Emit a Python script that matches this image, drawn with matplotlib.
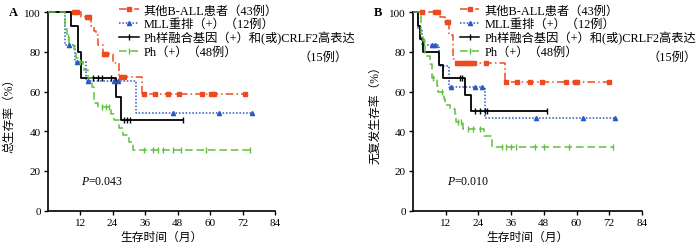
import matplotlib

matplotlib.use("Agg")

import matplotlib.pyplot as plt
import numpy as np
from matplotlib.lines import Line2D

plt.rcParams["font.family"] = ["Liberation Serif", "Noto Sans CJK SC"]
plt.rcParams["mathtext.fontset"] = "custom"
plt.rcParams["mathtext.it"] = "Liberation Serif:italic"
plt.rcParams["mathtext.rm"] = "Liberation Serif"

# ---- Panel A: overall survival ----
a_red_t = [0, 12.3, 16.0, 17.2, 17.9, 18.7, 20.5, 24.3, 26.3, 35.0, 73.0]
a_red_s = [100, 97.7, 93.0, 90.7, 88.4, 83.7, 79.1, 74.4, 67.4, 59.0, 59.0]
a_red_c = [9.7, 10.7, 14.5, 15.3, 21.0, 21.6, 27.0, 28.3,
           35.7, 39.6, 44.5, 48.5, 57.0, 60.2, 61.3, 73.0]

a_blue_t = [0, 6.3, 10.2, 14.0, 32.6, 75.5]
a_blue_s = [100, 83.3, 75.0, 65.6, 49.2, 49.2]
a_blue_c = [8.0, 11.0, 14.8, 24.5, 26.0, 46.4, 63.2, 75.5]

a_black_t = [0, 8.5, 11.4, 12.4, 25.4, 27.0, 50.0]
a_black_s = [100, 93.3, 80.0, 66.7, 57.1, 45.7, 45.7]
a_black_c = [16.7, 18.5, 20.2, 23.4, 28.3, 29.3, 30.3, 50.0]

a_green_t = [0, 6.3, 7.2, 8.0, 9.7, 10.5, 11.4, 13.0, 13.6, 14.8, 16.3, 17.3,
             18.5, 23.4, 24.6, 26.5, 27.7, 30.0, 31.4, 74.6]
a_green_s = [100, 91.7, 87.5, 83.3, 81.3, 77.1, 75.0, 72.9, 70.8, 66.7, 62.5,
             54.2, 52.0, 48.8, 45.5, 41.7, 38.0, 34.5, 30.6, 30.6]
a_green_c = [7.5, 12.0, 20.0, 21.5, 22.5, 35.7, 38.9, 40.6, 42.6, 46.3, 49.2,
             58.6, 74.6]

# ---- Panel B: relapse-free survival ----
b_red_t = [0, 9.9, 11.8, 13.2, 14.8, 15.8, 33.8, 72.2]
b_red_s = [100, 97.7, 95.3, 88.4, 76.7, 74.4, 64.7, 64.7]
b_red_c = [3.2, 8.1, 9.3, 12.3, 12.8, 16.3, 17.3, 18.3, 19.3, 20.3, 21.3, 22.5,
           26.8, 34.1, 38.1, 43.0, 47.3, 56.3, 59.6, 60.2, 71.8]

b_blue_t = [0, 2.0, 3.4, 9.5, 13.2, 26.3, 74.3]
b_blue_s = [100, 91.7, 83.3, 72.9, 62.5, 46.9, 46.9]
b_blue_c = [6.9, 8.0, 13.8, 22.8, 25.2, 45.1, 62.3, 74.3]

b_black_t = [0, 1.7, 2.5, 3.7, 9.7, 11.0, 19.0, 21.2, 49.0]
b_black_s = [100, 93.3, 86.7, 80.0, 73.3, 66.7, 58.3, 50.0, 50.0]
b_black_c = [17.3, 18.1, 22.8, 24.6, 26.5, 27.1, 49.0]

b_green_t = [0, 2.9, 3.5, 4.4, 6.3, 6.9, 8.7, 9.3, 11.4, 11.8, 13.6, 15.4,
             15.8, 18.5, 25.9, 28.9, 73.3]
b_green_s = [100, 87.5, 85.4, 78.0, 74.0, 67.0, 62.7, 60.0, 56.3, 53.3, 51.3,
             48.7, 44.5, 41.2, 37.8, 31.9, 31.9]
b_green_c = [4.0, 7.5, 10.5, 16.5, 17.5, 20.0, 22.0, 24.5, 32.6, 34.2, 36.0,
             37.9, 44.9, 47.9, 57.4, 73.3]

labels = [
    "其他B-ALL患者（43例）",
    "MLL重排（+）（12例）",
    "Ph样融合基因（+）和(或)CRLF2高表达",
    "Ph（+）（48例）",
]
styles = [
    dict(color="#ee4a22", ls=(0, (5, 2, 1, 2)), marker="s", ms=3.2),
    dict(color="#2a58c4", ls=(0, (1, 1.2)), marker="^", ms=3.0),
    dict(color="black", ls="-", marker="|", ms=5.0),
    dict(color="#62bf40", ls=(0, (5, 2.5)), marker="|", ms=4.0),
]

xticks = [12, 24, 36, 48, 60, 72, 84]
yticks = [0, 20, 40, 60, 80, 100]


def draw_curve(ax, t, s, cens, style):
    t = np.asarray(t)
    s = np.asarray(s)
    lw = 1.3 if style["color"] == "black" else 1.1
    ax.step(t, s, where="post", color=style["color"], ls=style["ls"], lw=lw,
            clip_on=False, zorder=3)
    idx = np.searchsorted(t, cens, side="right") - 1
    ax.plot(cens, s[idx], ls="none", marker=style["marker"], ms=style["ms"],
            color=style["color"], mew=1.0, clip_on=False, zorder=4)


def setup_panel(ax, curves, ylabel, ptext, letter, leg_x, note_x):
    for (t, s, c), st in zip(curves, styles):
        draw_curve(ax, t, s, c, st)
    ax.set_xlim(0, 84)
    ax.set_ylim(0, 100)
    ax.set_xticks(xticks)
    ax.set_yticks(yticks)
    ax.tick_params(direction="out", length=3, width=1.0, labelsize=8, pad=2)
    for side in ("top", "right"):
        ax.spines[side].set_visible(False)
    for side in ("left", "bottom"):
        ax.spines[side].set_linewidth(1.2)
    ax.set_xlabel("生存时间（月）", fontsize=8.5, labelpad=3)
    ax.set_ylabel(ylabel, fontsize=8.5, labelpad=6)
    ax.text(12.5, 15, ptext, fontsize=8.5, va="center", ha="left")
    ax.text(-0.17, 1.0, letter, transform=ax.transAxes, fontsize=9,
            fontweight="bold", va="center", ha="left")

    handles = [Line2D([], [], color=st["color"], ls=st["ls"], marker=st["marker"],
                      ms=st["ms"], lw=1.1) for st in styles]
    ax.legend(handles, labels, loc="upper left", bbox_to_anchor=(leg_x, 1.04),
              frameon=False, fontsize=8.8, borderpad=0, borderaxespad=0,
              handlelength=1.6, handletextpad=0.4, labelspacing=0.12,
              numpoints=1)
    ax.text(note_x, 0.775, "（15例）", transform=ax.transAxes, fontsize=8.8,
            ha="right", va="center")


fig = plt.figure(figsize=(7.0, 2.51), dpi=100)
ax_a = fig.add_axes([0.068, 0.157, 0.325, 0.790])
ax_b = fig.add_axes([0.590, 0.157, 0.327, 0.790])

setup_panel(
    ax_a,
    [(a_red_t, a_red_s, a_red_c), (a_blue_t, a_blue_s, a_blue_c),
     (a_black_t, a_black_s, a_black_c), (a_green_t, a_green_s, a_green_c)],
    "总生存率（%）", r"$P$=0.043", "A", 0.315, 1.32,
)
setup_panel(
    ax_b,
    [(b_red_t, b_red_s, b_red_c), (b_blue_t, b_blue_s, b_blue_c),
     (b_black_t, b_black_s, b_black_c), (b_green_t, b_green_s, b_green_c)],
    "无复发生存率（%）", r"$P$=0.010", "B", 0.205, 1.24,
)

fig.savefig("out.png", dpi=100)
